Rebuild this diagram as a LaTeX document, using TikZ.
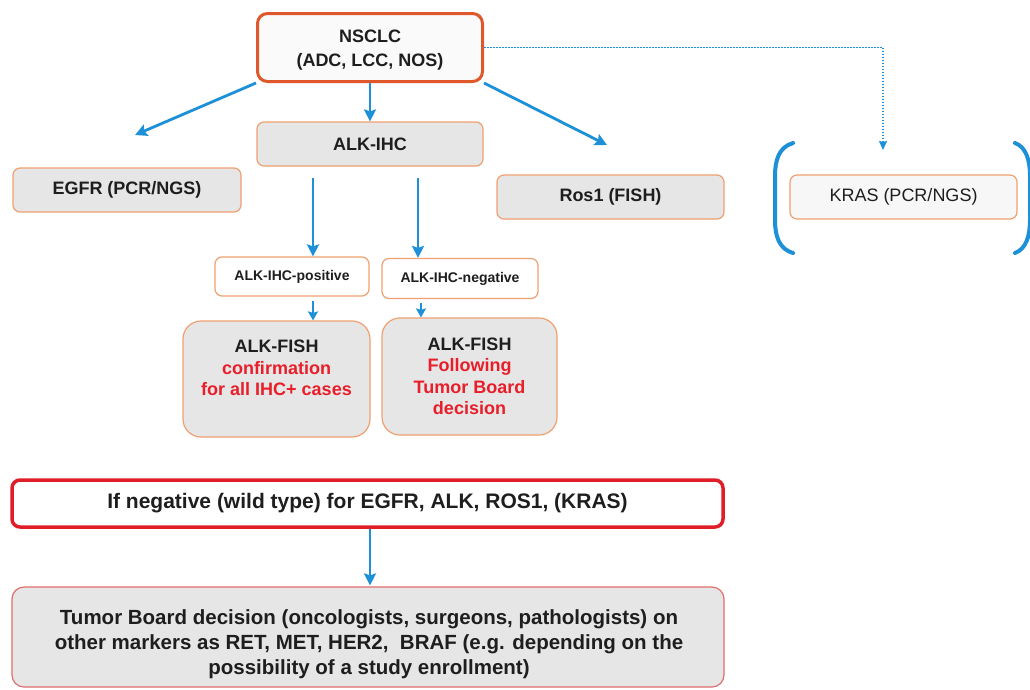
\documentclass[tikz,border=0pt]{standalone}
\usepackage{fontspec}
\setmainfont{Liberation Sans}
\usetikzlibrary{arrows.meta}
\definecolor{ablue}{RGB}{30,144,215}
\definecolor{topred}{RGB}{222,88,44}
\definecolor{lorange}{RGB}{240,160,112}
\definecolor{boxgray}{RGB}{230,230,230}
\definecolor{txtred}{RGB}{232,30,42}
\definecolor{boxred}{RGB}{224,30,40}
\definecolor{pinkred}{RGB}{224,110,110}
\definecolor{txtgray}{RGB}{30,30,30}
\tikzset{
  basebox/.style={draw=lorange, line width=1.2pt, rounded corners=7pt, inner sep=0pt, align=center, text=txtgray},
  graybox/.style={basebox, fill=boxgray},
  whitebox/.style={basebox, fill=white!97!black},
  bigfont/.style={font=\fontsize{18}{21.5}\selectfont\bfseries},
  smallfont/.style={font=\fontsize{14}{16}\selectfont\bfseries},
  plaintext/.style={inner sep=0pt, align=center, text=txtgray},
  conn/.style={draw=ablue, line width=2.8pt, -{Stealth[length=12pt,width=12pt,inset=2pt]}},
  shortconn/.style={draw=ablue, line width=2.4pt, -{Stealth[length=9pt,width=10pt,inset=1.5pt]}},
  dotconn/.style={draw=ablue, line width=1.4pt, dash pattern=on 1.5pt off 1.5pt, -{Stealth[length=9pt,width=8pt,inset=1pt]}},
  bracket/.style={draw=ablue, line width=4pt, line cap=round}
}
\begin{document}
\begin{tikzpicture}[x=1pt,y=-1pt]
\useasboundingbox[fill=white] (0,0) rectangle (1030,689);

% top
\node[whitebox, draw=topred, line width=3pt, rounded corners=10pt, fill=white!98!black,
      minimum width=225pt, minimum height=68pt] (nsclc) at (370,47.5) {};
\node[plaintext, font=\fontsize{18}{24}\selectfont\bfseries] (nsclctext) at (370,50) {NSCLC\\(ADC, LCC, NOS)};
\node[graybox, bigfont, minimum width=226pt, minimum height=44pt] (alkihc) at (370,144) {ALK-IHC};
\node[graybox, bigfont, minimum width=228pt, minimum height=44pt] (egfr) at (127,190) {EGFR (PCR/NGS)};
\node[graybox, bigfont, minimum width=227pt, minimum height=44pt] (ros1) at (610.5,197) {Ros1 (FISH)};
\node[whitebox, font=\fontsize{18}{21.5}\selectfont, minimum width=227pt, minimum height=44pt] (kras) at (903.5,197) {KRAS (PCR/NGS)};

% brackets
\draw[bracket] (793,143) .. controls (779,147) and (775,160) .. (775,176) -- (775,220) .. controls (775,236) and (779,249) .. (793,253);
\draw[bracket] (1015,143) .. controls (1026,147) and (1030,160) .. (1030,176) -- (1030,220) .. controls (1030,236) and (1026,249) .. (1015,253);

% IHC result boxes
\node[basebox, fill=white, smallfont, minimum width=154pt, minimum height=39pt] (pos) at (292,276.5) {ALK-IHC-positive};
\node[basebox, fill=white, smallfont, minimum width=156pt, minimum height=40pt] (neg) at (460,278.5) {ALK-IHC-negative};

% FISH boxes
\node[graybox, rounded corners=18pt, minimum width=187pt, minimum height=116pt] (fish1) at (276.5,379) {};
\node[plaintext, bigfont] (fish1text) at (276.5,368)
  {ALK-FISH\\\textcolor{txtred}{confirmation}\\\textcolor{txtred}{for all IHC+ cases}};
\node[graybox, bigfont, rounded corners=18pt, minimum width=175pt, minimum height=117pt] (fish2) at (469.5,376.5)
  {ALK-FISH\\\textcolor{txtred}{Following}\\\textcolor{txtred}{Tumor Board}\\\textcolor{txtred}{decision}};

% bottom
\node[basebox, draw=boxred, line width=3.5pt, fill=white, rounded corners=8pt,
      font=\fontsize{21}{24}\selectfont\bfseries, minimum width=711pt, minimum height=47pt] (wild) at (367.5,503.5)
  {If negative (wild type) for EGFR, ALK, ROS1, (KRAS)};
\node[graybox, draw=pinkred, line width=1.2pt, rounded corners=12pt, minimum width=712pt, minimum height=100pt] (board) at (368,637) {};
\node[plaintext, font=\fontsize{20.5}{25}\selectfont\bfseries] (boardtext) at (369,644)
  {Tumor Board decision (oncologists, surgeons, pathologists) on\\other markers as RET, MET, HER2,\ \ BRAF (e.g. depending on the\\possibility of a study enrollment)};

% connector free ends
\coordinate (egfrtip) at (135,135);
\coordinate (ros1tip) at (607,145);
\coordinate (krastip) at (883,150);
\coordinate (ps) at (313,178);
\coordinate (ns) at (418,178);

% connectors
\draw[conn] (nsclc.south) -- (alkihc.north);
\draw[conn] (nsclc.south west) -- (egfrtip);
\draw[conn] (nsclc.south east) -- (ros1tip);
\draw[dotconn] (nsclc.east) -| (krastip);
\draw[conn] (ps) -- (ps |- pos.north);
\draw[conn] (ns) -- (ns |- neg.north);
\draw[shortconn, shorten <=4pt] (pos.south -| ps) -- (fish1.north -| ps);
\draw[shortconn, shorten <=4pt] (neg.south -| 421,0) -- (fish2.north -| 421,0);
\draw[conn, shorten >=1pt] (wild.south -| 370,0) -- (board.north -| 370,0);
\end{tikzpicture}
\end{document}
